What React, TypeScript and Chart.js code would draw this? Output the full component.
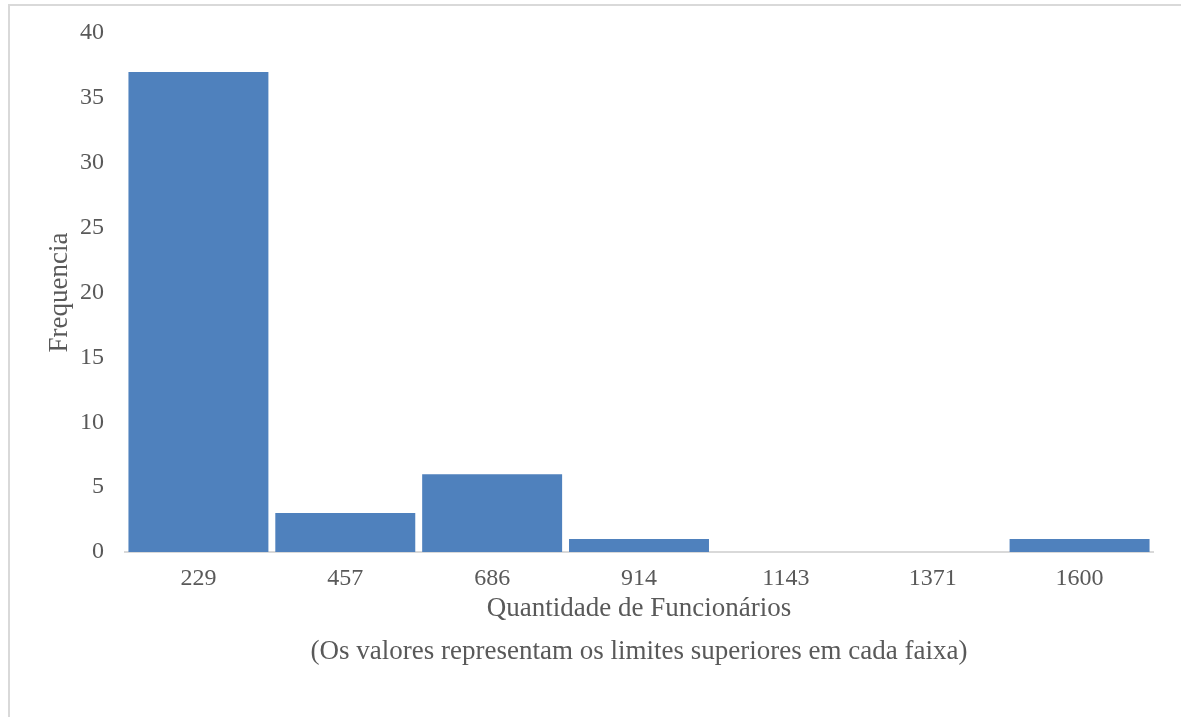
import React, { useEffect, useRef } from "react";
import { Chart, registerables } from "chart.js";

Chart.register(...registerables);

const categories = ["229", "457", "686", "914", "1143", "1371", "1600"];
const frequencies = [37, 3, 6, 1, 0, 0, 1];
const yTitle = "Frequencia";
const xTitleLines = [
  "Quantidade de Funcionários",
  "(Os valores representam os limites superiores em cada faixa)",
];

const FONT = "'Liberation Serif', 'Times New Roman', serif";
const TEXT = "#595959";

export default function App() {
  const ref = useRef<HTMLCanvasElement | null>(null);

  useEffect(() => {
    if (!ref.current) return;
    const chart = new Chart(ref.current, {
      type: "bar",
      data: {
        labels: categories,
        datasets: [
          {
            data: frequencies,
            backgroundColor: "#4F81BD",
            borderWidth: 0,
            barPercentage: 0.953,
            categoryPercentage: 1,
          },
        ],
      },
      options: {
        responsive: false,
        animation: false,
        layout: { padding: { left: 0, right: 28, top: 27, bottom: 0 } },
        plugins: { legend: { display: false }, tooltip: { enabled: false } },
        scales: {
          x: {
            grid: { display: false, drawTicks: false },
            border: { display: true, color: "#d9d9d9", width: 2 },
            ticks: { color: TEXT, font: { family: FONT, size: 24 }, padding: 12 },
            title: {
              display: true,
              text: xTitleLines,
              color: TEXT,
              font: { family: FONT, size: 27, lineHeight: 1.593 },
              padding: { top: 0, bottom: 44 },
            },
            afterFit: (scale: any) => {
              scale.height = 165;
              scale.paddingLeft = 0;
              scale.paddingRight = 0;
            },
          },
          y: {
            min: 0,
            max: 40,
            grid: { display: false, drawTicks: false },
            border: { display: false },
            ticks: {
              stepSize: 5,
              color: TEXT,
              font: { family: FONT, size: 24 },
              padding: 21,
            },
            title: {
              display: true,
              text: yTitle,
              color: TEXT,
              font: { family: FONT, size: 27, lineHeight: 1.2 },
              padding: { top: 34, bottom: 0 },
            },
            afterFit: (scale: any) => {
              scale.width = 115;
              scale.paddingTop = 0;
              scale.paddingBottom = 0;
            },
          },
        },
      },
    });
    return () => chart.destroy();
  }, []);

  return (
    <div
      style={{
        position: "absolute",
        left: 8,
        top: 4,
        width: 1171,
        height: 711,
        borderTop: "2px solid #d9d9d9",
        borderLeft: "2px solid #d9d9d9",
        background: "#fff",
      }}
    >
      <canvas ref={ref} width={1171} height={711} style={{ display: "block" }} />
    </div>
  );
}
